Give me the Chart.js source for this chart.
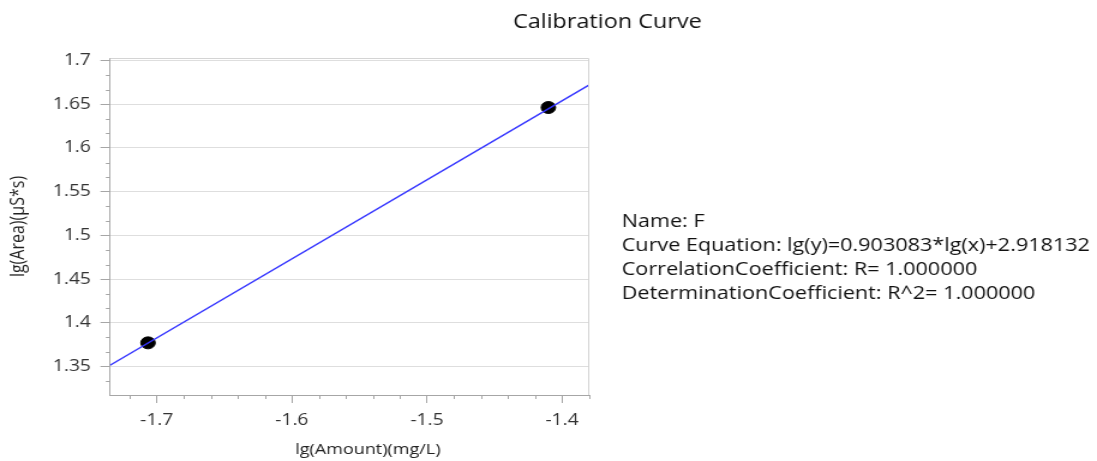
<!DOCTYPE html>
<html>
<head>
<meta charset="utf-8">
<title>Calibration Curve</title>
<script src="https://cdn.jsdelivr.net/npm/chart.js@4.4.1/dist/chart.umd.min.js"></script>
<style>
    html, body { margin: 0; padding: 0; background: #fff; overflow: hidden; }
    /* the chart is laid out on a 914px canvas and widened to 1097px */
    #wrap { width: 914px; height: 461px; transform: scaleX(1.2002); transform-origin: 0 0; }
</style>
</head>
<body>
<div id="wrap"><canvas id="calChart"></canvas></div>
<script>
const chartTitle = 'Calibration Curve';
const xAxisTitle = 'lg(Amount)(mg/L)';
const yAxisTitle = 'lg(Area)(μS*s)';

// calibration standards: lg(amount), lg(area)
const standardX = [-1.7065, -1.4101];
const standardY = [1.3772, 1.6462];

// fitted line, end points at the axis limits
const fitX = [-1.7346, -1.3798];
const fitY = [1.3516, 1.6721];

const xTickLabels = ['-1.7', '-1.6', '-1.5', '-1.4'];
const yTickLabels = ['1.35', '1.4', '1.45', '1.5', '1.55', '1.6', '1.65', '1.7'];

const xRange = [-1.7346, -1.3798];
const yRange = [1.3176, 1.7028];

const infoLines = [
    'Name: F',
    'Curve Equation: lg(y)=0.903083*lg(x)+2.918132',
    'CorrelationCoefficient: R= 1.000000',
    'DeterminationCoefficient: R^2= 1.000000'
];

const xTicks = xTickLabels.map(Number);
const yTicks = yTickLabels.map(Number);
const xMinorSplit = 5;
const yMinorSplit = 3;

const axisColor = '#a6a6a6';
const fontFamily = "'Open Sans', 'Noto Sans', sans-serif";

Chart.defaults.font.family = fontFamily;

function minorValues(majors, split, scale) {
    const step = (majors[1] - majors[0]) / split;
    const values = [];
    for (let i = -split; i <= majors.length * split; i++) {
        if (i % split === 0) continue;
        const v = majors[0] + i * step;
        if (v >= scale.min && v <= scale.max) values.push(v);
    }
    return values;
}

// frame, minor ticks, titles and the fit summary
const decorPlugin = {
    id: 'decor',
    afterDraw(chart) {
        const { ctx, chartArea, scales } = chart;
        ctx.save();

        ctx.lineWidth = 1;
        ctx.strokeStyle = '#d4d4d4';
        ctx.beginPath();
        ctx.moveTo(chartArea.left, chartArea.top + 0.5);
        ctx.lineTo(chartArea.right - 0.5, chartArea.top + 0.5);
        ctx.lineTo(chartArea.right - 0.5, chartArea.bottom);
        ctx.stroke();

        ctx.strokeStyle = axisColor;
        ctx.beginPath();
        minorValues(xTicks, xMinorSplit, scales.x).forEach((v) => {
            const px = Math.round(scales.x.getPixelForValue(v)) + 0.5;
            ctx.moveTo(px, chartArea.bottom);
            ctx.lineTo(px, chartArea.bottom + 4);
        });
        minorValues(yTicks, yMinorSplit, scales.y).forEach((v) => {
            const py = Math.round(scales.y.getPixelForValue(v)) + 0.5;
            ctx.moveTo(chartArea.left - 3.5, py);
            ctx.lineTo(chartArea.left, py);
        });
        ctx.stroke();

        ctx.textBaseline = 'middle';
        ctx.textAlign = 'center';

        ctx.fillStyle = '#222';
        ctx.font = `15px ${fontFamily}`;
        ctx.fillText(xAxisTitle, 306.5, 450);

        ctx.fillStyle = '#111';
        ctx.font = `19.5px ${fontFamily}`;
        ctx.fillText(chartTitle, 506, 22);

        ctx.textAlign = 'left';
        ctx.font = `18px ${fontFamily}`;
        infoLines.forEach((line, i) => {
            ctx.fillText(line, 518, 222 + i * 24);
        });

        ctx.restore();
    }
};

new Chart(document.getElementById('calChart'), {
    type: 'scatter',
    data: {
        datasets: [
            {
                label: 'Fit',
                data: fitX.map((x, i) => ({ x, y: fitY[i] })),
                showLine: true,
                borderColor: '#3535ff',
                borderWidth: 1.5,
                pointRadius: 0,
                pointHoverRadius: 0
            },
            {
                label: 'F',
                data: standardX.map((x, i) => ({ x, y: standardY[i] })),
                backgroundColor: '#000',
                borderColor: '#000',
                pointRadius: 6
            }
        ]
    },
    options: {
        responsive: true,
        maintainAspectRatio: false,
        animation: false,
        layout: {
            padding: { left: 0, top: 58, right: 423, bottom: 0 }
        },
        plugins: {
            legend: { display: false },
            tooltip: { enabled: false },
            title: { display: false }
        },
        scales: {
            x: {
                type: 'linear',
                min: xRange[0],
                max: xRange[1],
                afterBuildTicks: (scale) => {
                    scale.ticks = xTicks.map((value) => ({ value }));
                },
                afterFit: (scale) => {
                    scale.height = 66;
                },
                ticks: {
                    callback: (value, index) => xTickLabels[index],
                    autoSkip: false,
                    maxRotation: 0,
                    padding: 8,
                    color: '#333',
                    font: { size: 16 }
                },
                grid: {
                    drawOnChartArea: false,
                    tickLength: 8,
                    tickColor: axisColor
                },
                border: { color: axisColor },
                title: { display: false }
            },
            y: {
                type: 'linear',
                min: yRange[0],
                max: yRange[1],
                afterBuildTicks: (scale) => {
                    scale.ticks = yTicks.map((value) => ({ value }));
                },
                afterFit: (scale) => {
                    scale.width = 91.7;
                },
                ticks: {
                    callback: (value, index) => yTickLabels[index],
                    autoSkip: false,
                    padding: 8,
                    color: '#333',
                    font: { size: 16 }
                },
                grid: {
                    color: '#dedede',
                    tickLength: 8,
                    tickColor: axisColor
                },
                border: { color: axisColor },
                title: {
                    display: true,
                    text: yAxisTitle,
                    color: '#222',
                    font: { size: 16 },
                    padding: { top: 6, bottom: 0 }
                }
            }
        }
    },
    plugins: [decorPlugin]
});
</script>
</body>
</html>
